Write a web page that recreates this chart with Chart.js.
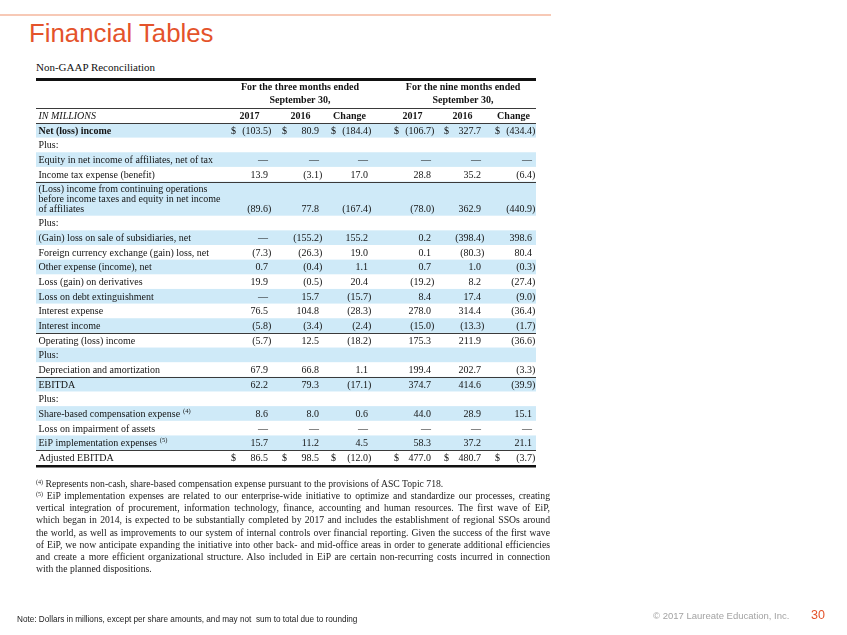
<!DOCTYPE html>
<html>
<head>
<meta charset="utf-8">
<script src="https://cdn.jsdelivr.net/npm/chart.js@4.4.1/dist/chart.umd.min.js"></script>
<style>
  html, body { margin: 0; padding: 0; background: #fff; }
  body { width: 847px; height: 635px; position: relative; overflow: hidden; }
  #topRule { position: absolute; left: 0; top: 14px; width: 551px; height: 2px; background: #f7c9b6; }
  #title { position: absolute; left: 29px; top: 20.5px; font: 25.8px/1 "Liberation Sans", Arial, sans-serif; color: #e4532b; white-space: nowrap; }
  #subtitle { position: absolute; left: 36px; top: 62px; font: 11px/1 "Liberation Serif", serif; color: #111; white-space: nowrap; }
  #table { position: absolute; left: 0; top: 0; }
  #notes { position: absolute; left: 36px; top: 478px; width: 514px; font: 9.7px/12.14px "Liberation Serif", serif; color: #1a1a1a; }
  #notes div { text-align: justify; text-align-last: justify; }
  #notes div.last { text-align-last: left; }
  #notes sup { font-size: 6px; vertical-align: 3px; line-height: 0; }
  #note { position: absolute; left: 17px; top: 616px; font: 8.2px/1 "Liberation Sans", Arial, sans-serif; color: #222; white-space: pre; }
  #copy { position: absolute; left: 653px; top: 611px; font: 9.5px/1 "Liberation Sans", Arial, sans-serif; color: #a3a3a3; white-space: nowrap; }
  #page { position: absolute; left: 811px; top: 609px; font: 12.5px/1 "Liberation Sans", Arial, sans-serif; color: #e4532b; }
</style>
</head>
<body>
<div id="topRule"></div>
<div id="title">Financial Tables</div>
<div id="subtitle">Non-GAAP Reconciliation</div>
<canvas id="table" width="847" height="635"></canvas>
<div id="notes">
  <div class="last"><sup>(4)</sup> Represents non-cash, share-based compensation expense pursuant to the provisions of ASC Topic 718.</div>
  <div><sup>(5)</sup> EiP implementation expenses are related to our enterprise-wide initiative to optimize and standardize our processes, creating</div>
  <div>vertical integration of procurement, information technology, finance, accounting and human resources. The first wave of EiP,</div>
  <div>which began in 2014, is expected to be substantially completed by 2017 and includes the establishment of regional SSOs around</div>
  <div>the world, as well as improvements to our system of internal controls over financial reporting. Given the success of the first wave</div>
  <div>of EiP, we now anticipate expanding the initiative into other back- and mid-office areas in order to generate additional efficiencies</div>
  <div>and create a more efficient organizational structure. Also included in EiP are certain non-recurring costs incurred in connection</div>
  <div class="last">with the planned dispositions.</div>
</div>
<div id="note">Note: Dollars in millions, except per share amounts, and may not  sum to total due to rounding</div>
<div id="copy">© 2017 Laureate Education, Inc.</div>
<div id="page">30</div>
<script>
// row labels (categories)
const rowLabels = [
  'Net (loss) income',
  'Plus:',
  'Equity in net income of affiliates, net of tax',
  'Income tax expense (benefit)',
  '(Loss) income from continuing operations\nbefore income taxes and equity in net income\nof affiliates',
  'Plus:',
  '(Gain) loss on sale of subsidiaries, net',
  'Foreign currency exchange (gain) loss, net',
  'Other expense (income), net',
  'Loss (gain) on derivatives',
  'Loss on debt extinguishment',
  'Interest expense',
  'Interest income',
  'Operating (loss) income',
  'Plus:',
  'Depreciation and amortization',
  'EBITDA',
  'Plus:',
  'Share-based compensation expense',
  'Loss on impairment of assets',
  'EiP implementation expenses',
  'Adjusted EBITDA'
];

// values in $ millions; null = "—", '' = empty cell
const threeMonths2017   = [-103.5, '', null, 13.9, -89.6, '', null, -7.3, 0.7, 19.9, null, 76.5, -5.8, -5.7, '', 67.9, 62.2, '', 8.6, null, 15.7, 86.5];
const threeMonths2016   = [80.9, '', null, -3.1, 77.8, '', -155.2, -26.3, -0.4, -0.5, 15.7, 104.8, -3.4, 12.5, '', 66.8, 79.3, '', 8.0, null, 11.2, 98.5];
const threeMonthsChange = [-184.4, '', null, 17.0, -167.4, '', 155.2, 19.0, 1.1, 20.4, -15.7, -28.3, -2.4, -18.2, '', 1.1, -17.1, '', 0.6, null, 4.5, -12.0];
const nineMonths2017    = [-106.7, '', null, 28.8, -78.0, '', 0.2, 0.1, 0.7, -19.2, 8.4, 278.0, -15.0, 175.3, '', 199.4, 374.7, '', 44.0, null, 58.3, 477.0];
const nineMonths2016    = [327.7, '', null, 35.2, 362.9, '', -398.4, -80.3, 1.0, 8.2, 17.4, 314.4, -13.3, 211.9, '', 202.7, 414.6, '', 28.9, null, 37.2, 480.7];
const nineMonthsChange  = [-434.4, '', null, -6.4, -440.9, '', 398.6, 80.4, -0.3, -27.4, -9.0, -36.4, -1.7, -36.6, '', -3.3, -39.9, '', 15.1, null, 21.1, -3.7];

// header texts
const periodLabels = ['For the three months ended', 'For the nine months ended'];
const periodDates = ['September 30,', 'September 30,'];
const columnHeaders = ['2017', '2016', 'Change', '2017', '2016', 'Change'];
const unitLabel = 'IN MILLIONS';

const dollarRows = ['Net (loss) income', 'Adjusted EBITDA'];
const boldRows = ['Net (loss) income'];
const footnoteMarks = { 'Share-based compensation expense': '(4)', 'EiP implementation expenses': '(5)' };
const rulesAfter = ['Income tax expense (benefit)', 'Interest income', 'Depreciation and amortization', 'EiP implementation expenses'];

// layout
const W = 847, H = 635;
const TABLE_LEFT = 36, TABLE_RIGHT = 536, TABLE_TOP = 79, ROW_PX = 14.65;
const HEAD_UNITS = 3, LINE_STEP = 0.665;
const COL_RIGHT = [46.4, 56.6, 66.4, 79.0, 89.0, 99.2]; // x units, 0..100 across the table
const PERIOD_CENTER = [52.8, 85.4];
const SERIF = '"Liberation Serif", "Times New Roman", serif';
const INK = '#141414';

const columns = [threeMonths2017, threeMonths2016, threeMonthsChange, nineMonths2017, nineMonths2016, nineMonthsChange];

const rowLines = rowLabels.map(l => l.split('\n').length);
const rowHeight = rowLines.map(n => 1 + (n - 1) * LINE_STEP);
const rowTop = [];
rowHeight.reduce((acc, h, i) => { rowTop[i] = acc; return acc + h; }, HEAD_UNITS);
const totalUnits = HEAD_UNITS + rowHeight.reduce((a, b) => a + b, 0);
const rowValueY = rowTop.map((t, i) => t + 0.5 + (rowLines[i] - 1) * LINE_STEP);

function fmt(v) {
  if (v === null) return '—';
  if (v === '') return '';
  return v < 0 ? '(' + Math.abs(v).toFixed(1) : v.toFixed(1);
}

const tablePlugin = {
  id: 'tableText',
  beforeDatasetsDraw(chart) {
    const { ctx, scales: { x, y } } = chart;
    const left = x.getPixelForValue(0), right = x.getPixelForValue(100);
    ctx.save();
    ctx.fillStyle = '#cfeaf8';
    rowLabels.forEach((lab, i) => {
      if (i % 2) return;
      const t = y.getPixelForValue(rowTop[i]);
      const b = y.getPixelForValue(rowTop[i] + rowHeight[i]);
      ctx.fillRect(left, t, right - left, b - t);
    });
    ctx.restore();
  },
  afterDatasetsDraw(chart) {
    const { ctx, scales: { x, y } } = chart;
    const left = x.getPixelForValue(0), right = x.getPixelForValue(100);
    const base = v => y.getPixelForValue(v) + 3.4;
    ctx.save();

    // rules
    ctx.fillStyle = '#111';
    ctx.fillRect(left, Math.round(y.getPixelForValue(0)) - 1, right - left, 3);
    ctx.fillStyle = '#3a3a3a';
    [1.95, HEAD_UNITS].forEach(v => ctx.fillRect(left, Math.round(y.getPixelForValue(v)), right - left, 1));
    rowLabels.forEach((lab, i) => {
      if (rulesAfter.includes(lab)) ctx.fillRect(left, Math.round(y.getPixelForValue(rowTop[i] + rowHeight[i])), right - left, 1);
    });
    ctx.fillStyle = '#111';
    ctx.fillRect(left, Math.round(y.getPixelForValue(totalUnits)), right - left, 2.5);

    // headers
    ctx.fillStyle = INK;
    ctx.font = 'bold 10px ' + SERIF;
    ctx.textAlign = 'center';
    periodLabels.forEach((t, g) => {
      ctx.fillText(t, x.getPixelForValue(PERIOD_CENTER[g]), base(0.55));
      ctx.fillText(periodDates[g], x.getPixelForValue(PERIOD_CENTER[g]), base(1.43));
    });
    columnHeaders.forEach((t, c) => ctx.fillText(t, x.getPixelForValue(COL_RIGHT[c] - 3.7), base(2.5)));
    ctx.textAlign = 'left';
    ctx.font = 'italic 10px ' + SERIF;
    ctx.fillText(unitLabel, x.getPixelForValue(0.5), base(2.5));

    // row labels
    rowLabels.forEach((lab, i) => {
      ctx.font = (boldRows.includes(lab) ? 'bold ' : '') + '10px ' + SERIF;
      ctx.textAlign = 'left';
      const lx = x.getPixelForValue(0.5);
      lab.split('\n').forEach((line, k) => {
        const by = base(rowTop[i] + 0.5 + k * LINE_STEP);
        ctx.fillText(line, lx, by);
        if (footnoteMarks[line]) {
          const w = ctx.measureText(line).width;
          ctx.font = '6.5px ' + SERIF;
          ctx.fillText(footnoteMarks[line], lx + w + 3, by - 4);
          ctx.font = '10px ' + SERIF;
        }
      });
    });

    // values, placed at each point of the column datasets
    ctx.font = '10px ' + SERIF;
    chart.data.datasets.forEach((ds, c) => {
      const meta = chart.getDatasetMeta(c);
      meta.data.forEach((pt, i) => {
        const v = columns[c][i];
        if (v === '') return;
        const by = pt.y + 3.4;
        ctx.textAlign = 'right';
        ctx.fillText(fmt(v), pt.x, by);
        if (typeof v === 'number' && v < 0) {
          ctx.textAlign = 'left';
          ctx.fillText(')', pt.x, by);
        }
        if (dollarRows.includes(rowLabels[i])) {
          ctx.textAlign = 'left';
          ctx.fillText('$', pt.x - 37, by);
        }
      });
    });
    ctx.restore();
  }
};

const ctx = document.getElementById('table').getContext('2d');

const data = {
  datasets: columns.map((vals, c) => ({
    label: columnHeaders[c],
    data: vals.map((v, i) => ({ x: COL_RIGHT[c], y: rowValueY[i] })),
    pointRadius: 0,
    pointHoverRadius: 0
  }))
};

const config = {
  type: 'scatter',
  data: data,
  options: {
    responsive: false,
    animation: false,
    devicePixelRatio: 1,
    events: [],
    layout: {
      autoPadding: false,
      padding: {
        left: TABLE_LEFT,
        right: W - TABLE_RIGHT,
        top: TABLE_TOP,
        bottom: H - TABLE_TOP - totalUnits * ROW_PX
      }
    },
    plugins: { legend: { display: false }, tooltip: { enabled: false } },
    scales: {
      x: { type: 'linear', min: 0, max: 100, display: false },
      y: { type: 'linear', min: 0, max: totalUnits, reverse: true, display: false }
    }
  },
  plugins: [tablePlugin]
};

const tableChart = new Chart(ctx, config);
</script>
</body>
</html>
